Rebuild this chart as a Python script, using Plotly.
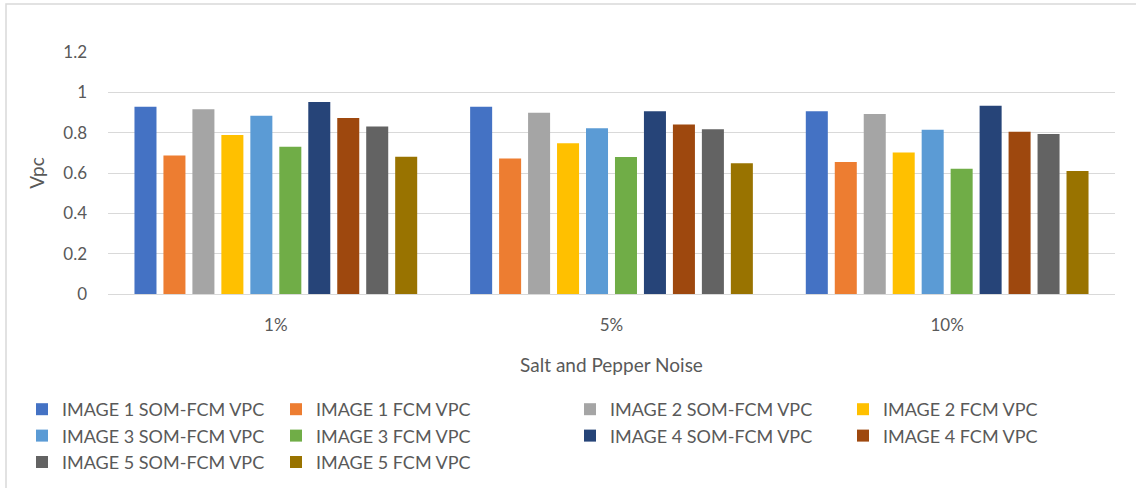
import plotly.graph_objects as go

categories = ["1%", "5%", "10%"]
series_names = [
    "IMAGE 1 SOM-FCM VPC", "IMAGE 1 FCM VPC",
    "IMAGE 2 SOM-FCM VPC", "IMAGE 2 FCM VPC",
    "IMAGE 3 SOM-FCM VPC", "IMAGE 3 FCM VPC",
    "IMAGE 4 SOM-FCM VPC", "IMAGE 4 FCM VPC",
    "IMAGE 5 SOM-FCM VPC", "IMAGE 5 FCM VPC",
]
img1_som = [0.929, 0.928, 0.906]
img1_fcm = [0.687, 0.672, 0.654]
img2_som = [0.916, 0.899, 0.893]
img2_fcm = [0.788, 0.747, 0.702]
img3_som = [0.884, 0.822, 0.815]
img3_fcm = [0.730, 0.679, 0.621]
img4_som = [0.952, 0.906, 0.934]
img4_fcm = [0.873, 0.841, 0.805]
img5_som = [0.830, 0.817, 0.793]
img5_fcm = [0.681, 0.648, 0.610]
values = [img1_som, img1_fcm, img2_som, img2_fcm, img3_som,
          img3_fcm, img4_som, img4_fcm, img5_som, img5_fcm]
colors = ["#4472C4", "#ED7D31", "#A5A5A5", "#FFC000", "#5B9BD5",
          "#70AD47", "#264478", "#9E480E", "#636363", "#997300"]

FONT = "Lato, 'Open Sans', sans-serif"
GREY = "#595959"

# page geometry of the plot area
PL, PR, PT, PB = 108, 1115, 52, 294
PW, PH = PR - PL, PB - PT

legend_ids = ["legend", "legend2", "legend3", "legend4"]
legend_text_x = [66, 320, 614, 887]

fig = go.Figure()
for i, (name, vals, col) in enumerate(zip(series_names, values, colors)):
    fig.add_trace(go.Bar(x=categories, y=vals, name=name,
                         legend=legend_ids[i % 4], legendgroup=name,
                         marker=dict(color=col, line=dict(width=0))))

legend_common = dict(
    orientation="v", xanchor="left", yanchor="top",
    y=(PB - 391) / PH, font=dict(size=18, color=GREY),
    traceorder="normal", tracegroupgap=0, bgcolor="rgba(0,0,0,0)",
)
legend_layout = {}
for lid, tx in zip(legend_ids, legend_text_x):
    legend_layout[lid] = dict(legend_common, x=(tx - 44 - PL) / PW)

fig.update_layout(
    width=1136, height=488,
    barmode="group", bargap=0.137, bargroupgap=0.24,
    plot_bgcolor="white", paper_bgcolor="white",
    margin=dict(l=PL, r=1136 - PR, t=PT, b=488 - PB, autoexpand=False),
    font=dict(family=FONT, size=17, color=GREY),
    xaxis=dict(
        title=dict(text="Salt and Pepper Noise", font=dict(size=19, color=GREY), standoff=24),
        showgrid=False, showline=True, linecolor="#D9D9D9", linewidth=1,
        ticks="", tickfont=dict(size=17, color=GREY), ticklabelstandoff=16,
    ),
    yaxis=dict(
        title=dict(text="Vpc", font=dict(size=19, color=GREY), standoff=13),
        range=[0, 1.2], tickvals=[0, 0.2, 0.4, 0.6, 0.8, 1, 1.2],
        ticktext=["0", "0.2", "0.4", "0.6", "0.8", "1", "1.2"],
        showgrid=True, gridcolor="#D9D9D9", gridwidth=1,
        zeroline=False, showline=False, ticks="",
        tickfont=dict(size=17, color=GREY), ticklabelstandoff=20,
    ),
    showlegend=True,
    **legend_layout,
)

# outer chart border
fig.add_shape(type="rect", xref="paper", yref="paper",
              x0=(6 - PL) / PW, x1=(1145 - PL) / PW,
              y0=(PB - 500) / PH, y1=(PB - 4) / PH,
              line=dict(color="#D9D9D9", width=1.5), fillcolor="rgba(0,0,0,0)",
              layer="below")

fig.write_html("out.html", config={"displayModeBar": False},
               post_script="document.body.style.margin='0px';document.body.style.padding='0px';")
